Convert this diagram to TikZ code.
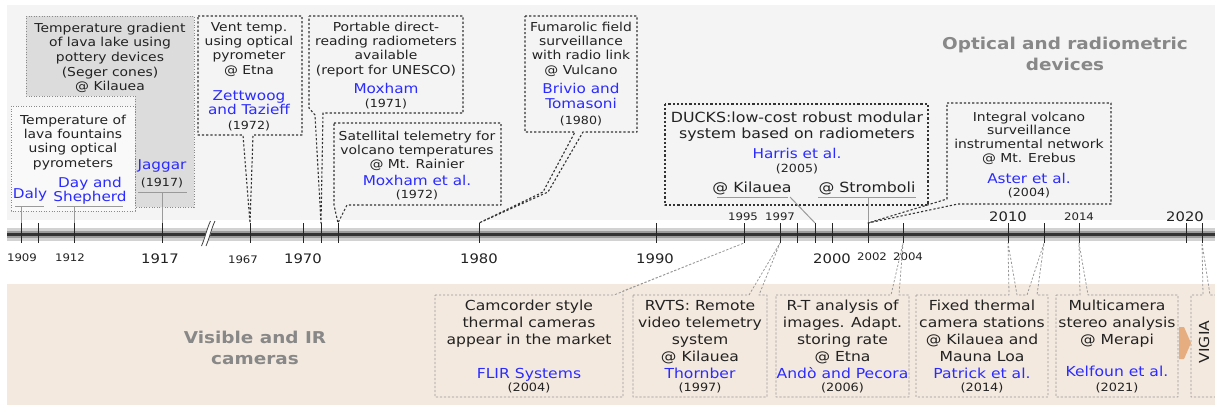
\documentclass[tikz,border=0pt]{standalone}
\usepackage{fontspec}
\setmainfont{DejaVu Sans}[FakeStretch=1.13]
\definecolor{txt}{HTML}{222222}
\definecolor{authc}{HTML}{2B2BFF}
\definecolor{ttlc}{HTML}{888888}
\definecolor{toppanel}{HTML}{F4F4F4}
\definecolor{botpanel}{HTML}{F3E9DF}
\definecolor{segerc}{HTML}{DCDCDC}
\definecolor{fountc}{HTML}{F9F9F9}
\definecolor{brd}{HTML}{333333}
\definecolor{lbrd}{HTML}{999999}
\definecolor{dotc}{HTML}{8A8A8A}
\definecolor{ulc}{HTML}{9A9A9A}
\definecolor{orarrow}{HTML}{E6AE80}
\definecolor{barA}{HTML}{D2D2D2}
\definecolor{barB}{HTML}{9C9C9C}
\definecolor{barC}{HTML}{333333}
\newcommand\fsz[2]{\fontsize{#1}{#2}\selectfont}
\tikzset{
 tbox/.style={draw=brd, line width=1.1pt, dash pattern=on 2.2pt off 2pt, line join=round},
 bbox/.style={draw=lbrd, line width=0.8pt, dash pattern=on 2.2pt off 1.8pt, line join=round},
 dotbox/.style={draw=dotc, line width=0.9pt, dash pattern=on 1pt off 1.6pt},
 uline/.style={draw=ulc, line width=1pt},
 tk/.style={draw=black!85, line width=0.9pt},
 body/.style={text=txt, align=center, inner sep=0pt, anchor=base, font=\fsz{12.3}{14.4}},
 bbody/.style={body, font=\fsz{13.8}{17}},
 auth/.style={text=authc, align=center, inner sep=0pt, anchor=base, font=\fsz{13.5}{14.6}},
 bauth/.style={auth, font=\fsz{13.8}{17}},
 yr/.style={text=txt, inner sep=0pt, anchor=base, font=\fsz{11.2}{13}},
 byr/.style={yr, font=\fsz{11.4}{13}},
 ttl/.style={text=ttlc, align=center, inner sep=0pt, anchor=base, font=\bfseries\fsz{16.3}{21.5}},
 ysm/.style={text=txt, inner sep=0pt, anchor=base, font=\fsz{10.4}{12}},
 ylg/.style={text=txt, inner sep=0pt, anchor=base, font=\fsz{13.1}{15}},
}
\begin{document}
\begin{tikzpicture}[x=1pt, y=-1pt]
\useasboundingbox (0,0) rectangle (1215,405);
% panels
\fill[toppanel] (7,5) rectangle (1215,220);
\fill[botpanel] (7,284) rectangle (1215,405);
% axis bar
\fill[barA] (7,228) rectangle (1215,241);
\fill[barB] (7,231) rectangle (1215,238);
\fill[barC] (7,233) rectangle (1215,235.5);
% break
\fill[white] (201,246) -- (210.5,221) -- (215.5,221) -- (206,246) -- cycle;
\draw[black!75, line width=0.8pt] (201.5,246) .. controls (205,238) and (207,228) .. (210.5,221);
\draw[black!75, line width=0.8pt] (206,246) .. controls (209.5,238) and (211.5,228) .. (215,221);
% ticks
\foreach \n/\x in {1909/21, 1910/38.5, 1912/74, 1917/162, 1967/250, 1970/303, 1971/321, 1972/338, 1980/479, 1990/656, 1995/744, 1997/780, 1998/797, 1999/815, 2000/832, 2002/868, 2004/903, 2010/1008, 2012/1044, 2014/1079, 2020/1186, 2021/1202}{
  \coordinate (t\n) at (\x,223);
  \coordinate (b\n) at (\x,243);
  \draw[tk] (t\n) -- (b\n);
}
% year labels
\node[ysm] (l1909) at (22,261) {1909};
\node[ysm] (l1912) at (70,261) {1912};
\node[ylg] (l1917) at (160,263) {1917};
\node[ysm] (l1967) at (243,263) {1967};
\node[ylg] (l1970) at (303,263) {1970};
\node[ylg] (l1980) at (479,263) {1980};
\node[ylg] (l1990) at (655,263) {1990};
\node[ysm] (l1995) at (743,220) {1995};
\node[ysm] (l1997) at (780,220) {1997};
\node[ylg] (l2000) at (832,263) {2000};
\node[ysm] (l2002) at (872,260) {2002};
\node[ysm] (l2004) at (908,260) {2004};
\node[ylg] (l2010) at (1008,221) {2010};
\node[ysm] (l2014) at (1079,220) {2014};
\node[ylg] (l2020) at (1185,221) {2020};

% ---- top boxes ----
\draw[dotbox, fill=segerc] (26,16) -- (194,16) -- (194,207) -- (135,207) -- (135,96) -- (26,96) -- cycle;
\draw[dotbox, fill=fountc] (11,106) rectangle (135,211);
\node[body, font=\fsz{12.3}{14.7}] (segerT) at (110,90.8) {Temperature gradient\\of lava lake using\\pottery devices\\(Seger cones)\\@ Kilauea};
\node[body] (fountT) at (73,167.2) {Temperature of\\lava fountains\\using optical\\pyrometers};
\node[auth] (daly) at (30,198) {Daly};
\node[auth, font=\fsz{13.5}{14}] (day) at (90,201) {Day and\\Shepherd};
\node[auth] (jaggar) at (162,169) {Jaggar};
\node[yr] (jaggarY) at (162,186) {(1917)};
\draw[uline] (15,206) -- (44,206);
\draw[uline] (21,206) -- (t1909);
\draw[uline] (57,206) -- (123,206);
\draw[uline] (74,206) -- (t1912);
\draw[uline] (138,192) -- (187,192);
\draw[uline] (162,192) -- (t1917);

% Vent temp
\draw[tbox] (198,16) -- (302,16) -- (302,135) -- (253,135) -- (t1967) -- (243,135) -- (198,135) -- cycle;
\node[body] (ventT) at (249,74.2) {Vent temp.\\using optical\\pyrometer\\@ Etna};
\node[auth] (zett) at (249,114.6) {Zettwoog\\and Tazieff};
\node[yr] (zettY) at (249,129) {(1972)};

% Portable (Moxham 1971)
\draw[tbox] (309,16) -- (463,16) -- (463,113) -- (323,113) -- (t1971) -- (315,115) -- (309,108) -- cycle;
\node[body] (portT) at (386,74.2) {Portable direct-\\reading radiometers\\available\\(report for UNESCO)};
\node[auth] (moxham) at (386,93) {Moxham};
\node[yr] (moxhamY) at (386,107) {(1971)};

% Satellital
\draw[tbox] (334,123) -- (501,123) -- (501,205) -- (347,205) -- (t1972) -- (334,205) -- cycle;
\node[body] (satT) at (417,168.8) {Satellital telemetry for\\volcano temperatures\\@ Mt. Rainier};
\node[auth] (moxham2) at (417,185) {Moxham et al.};
\node[yr] (moxham2Y) at (417,198) {(1972)};

% Fumarolic
\draw[tbox] (525,16) -- (637,16) -- (637,132) -- (583,132) -- (548,192) -- (t1980) -- (543,192) -- (575,132) -- (525,132) -- cycle;
\node[body] (fumT) at (581,74.2) {Fumarolic field\\surveillance\\with radio link\\@ Vulcano};
\node[auth, font=\fsz{13.5}{15}] (brivio) at (581,108) {Brivio and\\Tomasoni};
\node[yr] (brivioY) at (581,124) {(1980)};

% DUCKS
\draw[tbox] (665,104) rectangle (928,205);
\node[body, font=\fsz{14}{16}] (ducksT) at (797,138) {DUCKS:low-cost robust modular\\system based on radiometers};
\node[auth] (harris) at (797,158) {Harris et al.};
\node[yr] (harrisY) at (797,172) {(2005)};
\node[body, font=\fsz{14}{16}] (kil) at (752,192) {@ Kilauea};
\node[body, font=\fsz{14}{16}] (strom) at (867,192) {@ Stromboli};
\draw[uline] (717,197) -- (788,197);
\draw[uline] (790,197) -- (t1999);
\draw[uline] (818,197) -- (916,197);
\draw[uline] (868,197) -- (t2002);

% Aster
\draw[tbox] (947,103) -- (1111,103) -- (1111,204) -- (958,204) -- (t2002) -- (947,199) -- cycle;
\node[body, font=\fsz{12.3}{13.8}] (asterT) at (1029,162.4) {Integral volcano\\surveillance\\instrumental network\\@ Mt. Erebus};
\node[auth] (aster) at (1029,183) {Aster et al.};
\node[yr] (asterY) at (1029,196) {(2004)};

% titles
\node[ttl] (ttlTop) at (1065,70.5) {Optical and radiometric\\devices};
\node[ttl] (ttlBot) at (255,364.5) {Visible and IR\\cameras};

% ---- bottom boxes ----
\draw[bbox] (435,295) -- (614,295) -- (b1995) -- (623,291) -- (623,397) -- (435,397) -- cycle;
\node[bbody] (camT) at (529,344) {Camcorder style\\thermal cameras\\appear in the market};
\node[bauth] (flir) at (529,378) {FLIR Systems};
\node[byr] (flirY) at (529,391) {(2004)};

\draw[bbox] (633,295) -- (749,295) -- (b1997) -- (759,295) -- (767,295) -- (767,397) -- (633,397) -- cycle;
\node[bbody] (rvtsT) at (700,361) {RVTS: Remote\\video telemetry\\system\\@ Kilauea};
\node[bauth] (thorn) at (700,378) {Thornber};
\node[byr] (thornY) at (700,391) {(1997)};

\draw[bbox] (776,295) -- (891,295) -- (b2004) -- (899,295) -- (909,295) -- (909,397) -- (776,397) -- cycle;
\node[bbody] (rtT) at (842.5,361) {R-T analysis of\\images. Adapt.\\storing rate\\@ Etna};
\node[bauth] (ando) at (842.5,378) {Andò and Pecora};
\node[byr] (andoY) at (842.5,391) {(2006)};

\draw[bbox] (916,295) -- (1009,295) -- (b2010) -- (1017,295) -- (1027,295) -- (b2012) -- (1037,295) -- (1048,295) -- (1048,397) -- (916,397) -- cycle;
\node[bbody] (fixT) at (982,361) {Fixed thermal\\camera stations\\@ Kilauea and\\Mauna Loa};
\node[bauth] (patrick) at (982,378) {Patrick et al.};
\node[byr] (patrickY) at (982,391) {(2014)};

\draw[bbox] (1056,295) -- (1080,295) -- (b2014) -- (1088,295) -- (1178,295) -- (1178,397) -- (1056,397) -- cycle;
\node[bbody] (multiT) at (1117,344) {Multicamera\\stereo analysis\\@ Merapi};
\node[bauth] (kelfoun) at (1117,376) {Kelfoun et al.};
\node[byr] (kelfounY) at (1117,391) {(2021)};

\draw[bbox] (1220,397) -- (1191,397) -- (1191,295) -- (1203,295) -- (b2021) -- (1210,295) -- (1220,295);
\node[text=txt, inner sep=0pt, rotate=90, font=\fsz{13.8}{16}] (vigia) at (1204,342) {VIGIA};
\fill[orarrow] (1179,327) -- (1184,327) -- (1191,343) -- (1184,359) -- (1179,359) -- cycle;
\end{tikzpicture}
\end{document}
